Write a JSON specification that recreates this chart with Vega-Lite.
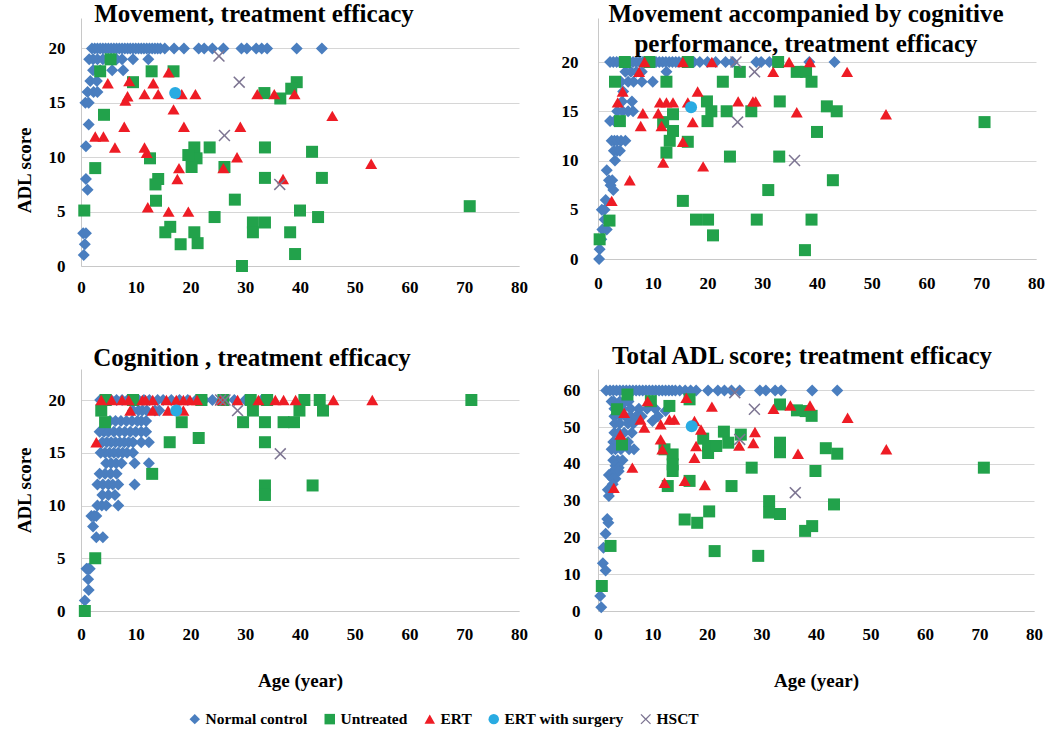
{
"$schema": "https://vega.github.io/schema/vega-lite/v6.json",
"padding": {"left": 15, "top": 2, "right": 0, "bottom": 0},
"config": {
  "font": "Liberation Serif",
  "view": {"stroke": null},
  "axis": {"labelFont": "Liberation Serif", "labelFontWeight": "bold", "labelFontSize": 17, "labelColor": "#000", "titleFont": "Liberation Serif", "titleFontWeight": "bold", "titleFontSize": 19, "titleColor": "#000", "ticks": false, "domainColor": "#c8c8c8", "gridColor": "#d6d6d6", "labelFlush": false, "labelOverlap": false},
  "axisX": {"grid": false, "labelPadding": 13},
  "axisY": {"grid": true, "labelPadding": 16},
  "title": {"font": "Liberation Serif", "fontWeight": "bold", "fontSize": 25, "color": "#000", "anchor": "middle", "lineHeight": 30},
  "legend": {"labelFont": "Liberation Serif", "labelFontWeight": "bold", "labelFontSize": 15.5, "labelColor": "#000", "symbolSize": 110, "columnPadding": 14, "labelOffset": 3}
},
"datasets": {
"m": [
{"group":"Normal control","age":2,"score":20},{"group":"Normal control","age":2.5,"score":20},{"group":"Normal control","age":3,"score":20},{"group":"Normal control","age":3.5,"score":20},{"group":"Normal control","age":4,"score":20},{"group":"Normal control","age":4.5,"score":20},{"group":"Normal control","age":5,"score":20},{"group":"Normal control","age":5.5,"score":20},{"group":"Normal control","age":6,"score":20},{"group":"Normal control","age":6.5,"score":20},{"group":"Normal control","age":7,"score":20},{"group":"Normal control","age":7.5,"score":20},{"group":"Normal control","age":8,"score":20},{"group":"Normal control","age":8.5,"score":20},{"group":"Normal control","age":9,"score":20},{"group":"Normal control","age":9.5,"score":20},{"group":"Normal control","age":10,"score":20},{"group":"Normal control","age":10.5,"score":20},{"group":"Normal control","age":11,"score":20},{"group":"Normal control","age":11.5,"score":20},{"group":"Normal control","age":12,"score":20},{"group":"Normal control","age":12.5,"score":20},{"group":"Normal control","age":13,"score":20},{"group":"Normal control","age":13.5,"score":20},{"group":"Normal control","age":14,"score":20},{"group":"Normal control","age":14.5,"score":20},{"group":"Normal control","age":15.3,"score":20},{"group":"Normal control","age":17,"score":20},{"group":"Normal control","age":18.8,"score":20},{"group":"Normal control","age":21.5,"score":20},{"group":"Normal control","age":22.5,"score":20},{"group":"Normal control","age":24,"score":20},{"group":"Normal control","age":26,"score":20},{"group":"Normal control","age":29.3,"score":20},{"group":"Normal control","age":30.3,"score":20},{"group":"Normal control","age":32,"score":20},{"group":"Normal control","age":33,"score":20},{"group":"Normal control","age":34,"score":20},{"group":"Normal control","age":39.4,"score":20},{"group":"Normal control","age":44,"score":20},
{"group":"Normal control","age":1.5,"score":19},{"group":"Normal control","age":2.2,"score":19},{"group":"Normal control","age":3,"score":19},{"group":"Normal control","age":4,"score":19},{"group":"Normal control","age":5.5,"score":19},{"group":"Normal control","age":6.5,"score":19},{"group":"Normal control","age":7.5,"score":19},{"group":"Normal control","age":9.5,"score":19},{"group":"Normal control","age":12.3,"score":19},
{"group":"Normal control","age":2.2,"score":18},{"group":"Normal control","age":3.5,"score":18},{"group":"Normal control","age":5.7,"score":18},{"group":"Normal control","age":7.7,"score":18},
{"group":"Normal control","age":1.7,"score":17},{"group":"Normal control","age":2.9,"score":17},{"group":"Normal control","age":1.2,"score":16},{"group":"Normal control","age":2.3,"score":16},{"group":"Normal control","age":3,"score":16},{"group":"Normal control","age":0.8,"score":15},{"group":"Normal control","age":1.4,"score":15},
{"group":"Normal control","age":1.4,"score":13},{"group":"Normal control","age":0.9,"score":11},{"group":"Normal control","age":0.9,"score":8},{"group":"Normal control","age":1.2,"score":7},{"group":"Normal control","age":0.4,"score":3},{"group":"Normal control","age":0.9,"score":3},{"group":"Normal control","age":0.7,"score":2},{"group":"Normal control","age":0.5,"score":1},
{"group":"Untreated","age":5.4,"score":19},{"group":"Untreated","age":3.5,"score":17.9},{"group":"Untreated","age":12.9,"score":17.9},{"group":"Untreated","age":16.9,"score":17.9},{"group":"Untreated","age":9.5,"score":16.9},{"group":"Untreated","age":39.4,"score":16.9},{"group":"Untreated","age":33.5,"score":15.9},{"group":"Untreated","age":36.4,"score":15.4},{"group":"Untreated","age":38.4,"score":16.3},{"group":"Untreated","age":4.2,"score":13.9},{"group":"Untreated","age":20.7,"score":10.9},{"group":"Untreated","age":23.5,"score":10.9},{"group":"Untreated","age":21.1,"score":9.9},{"group":"Untreated","age":20.2,"score":9.1},{"group":"Untreated","age":19.6,"score":10.2},{"group":"Untreated","age":33.6,"score":10.9},{"group":"Untreated","age":42.2,"score":10.5},{"group":"Untreated","age":26.2,"score":9.1},{"group":"Untreated","age":12.6,"score":9.9},{"group":"Untreated","age":2.6,"score":9},{"group":"Untreated","age":33.6,"score":8.1},{"group":"Untreated","age":44,"score":8.1},{"group":"Untreated","age":14.1,"score":8},{"group":"Untreated","age":13.6,"score":7.5},{"group":"Untreated","age":13.7,"score":6},{"group":"Untreated","age":28.1,"score":6.1},{"group":"Untreated","age":0.6,"score":5.1},{"group":"Untreated","age":71,"score":5.5},{"group":"Untreated","age":24.4,"score":4.5},{"group":"Untreated","age":40,"score":5.1},{"group":"Untreated","age":43.3,"score":4.5},{"group":"Untreated","age":16.3,"score":3.6},{"group":"Untreated","age":15.4,"score":3.1},{"group":"Untreated","age":20.7,"score":3.1},{"group":"Untreated","age":21.3,"score":2.1},{"group":"Untreated","age":31.4,"score":4},{"group":"Untreated","age":33.6,"score":4},{"group":"Untreated","age":31.4,"score":3.1},{"group":"Untreated","age":38.2,"score":3.1},{"group":"Untreated","age":18.2,"score":2},{"group":"Untreated","age":39.1,"score":1.1},{"group":"Untreated","age":29.4,"score":0},
{"group":"ERT","age":4.9,"score":16.8},{"group":"ERT","age":8.8,"score":17},{"group":"ERT","age":13.2,"score":16.8},{"group":"ERT","age":16,"score":17.8},{"group":"ERT","age":8.5,"score":15.6},{"group":"ERT","age":8.1,"score":15.2},{"group":"ERT","age":11.6,"score":15.8},{"group":"ERT","age":14.1,"score":15.8},{"group":"ERT","age":18.4,"score":15.8},{"group":"ERT","age":20.9,"score":15.8},{"group":"ERT","age":32.2,"score":15.8},{"group":"ERT","age":35.3,"score":15.8},{"group":"ERT","age":39,"score":15.8},{"group":"ERT","age":16.9,"score":14.4},{"group":"ERT","age":45.9,"score":13.8},{"group":"ERT","age":7.9,"score":12.8},{"group":"ERT","age":18.8,"score":12.8},{"group":"ERT","age":29.1,"score":12.8},{"group":"ERT","age":2.6,"score":11.9},{"group":"ERT","age":4.1,"score":11.9},{"group":"ERT","age":6.2,"score":10.9},{"group":"ERT","age":11.6,"score":10.9},{"group":"ERT","age":12,"score":10.4},{"group":"ERT","age":28.5,"score":10},{"group":"ERT","age":53,"score":9.4},{"group":"ERT","age":17.9,"score":9},{"group":"ERT","age":17.6,"score":8},{"group":"ERT","age":26,"score":9},{"group":"ERT","age":36.9,"score":8},{"group":"ERT","age":12.2,"score":5.4},{"group":"ERT","age":16,"score":5},{"group":"ERT","age":19.6,"score":5},
{"group":"ERT with surgery","age":17.2,"score":15.9},
{"group":"HSCT","age":25.2,"score":19.3},{"group":"HSCT","age":28.9,"score":16.9},{"group":"HSCT","age":26.2,"score":12},{"group":"HSCT","age":36.3,"score":7.5}
],
"mc": [
{"group":"Normal control","age":2.2,"score":20},{"group":"Normal control","age":2.8,"score":20},{"group":"Normal control","age":3.4,"score":20},{"group":"Normal control","age":4,"score":20},{"group":"Normal control","age":4.6,"score":20},{"group":"Normal control","age":5.2,"score":20},{"group":"Normal control","age":5.8,"score":20},{"group":"Normal control","age":6.4,"score":20},{"group":"Normal control","age":7,"score":20},{"group":"Normal control","age":7.6,"score":20},{"group":"Normal control","age":8.2,"score":20},{"group":"Normal control","age":8.8,"score":20},{"group":"Normal control","age":9.4,"score":20},{"group":"Normal control","age":10,"score":20},{"group":"Normal control","age":10.6,"score":20},{"group":"Normal control","age":11.2,"score":20},{"group":"Normal control","age":11.8,"score":20},{"group":"Normal control","age":12.4,"score":20},{"group":"Normal control","age":13,"score":20},{"group":"Normal control","age":13.6,"score":20},{"group":"Normal control","age":14.2,"score":20},{"group":"Normal control","age":14.8,"score":20},{"group":"Normal control","age":15.5,"score":20},{"group":"Normal control","age":16.5,"score":20},{"group":"Normal control","age":17.5,"score":20},{"group":"Normal control","age":18.6,"score":20},{"group":"Normal control","age":20,"score":20},{"group":"Normal control","age":21.5,"score":20},{"group":"Normal control","age":23.3,"score":20},{"group":"Normal control","age":24.6,"score":20},{"group":"Normal control","age":28.9,"score":20},{"group":"Normal control","age":29.8,"score":20},{"group":"Normal control","age":31.3,"score":20},{"group":"Normal control","age":33,"score":20},{"group":"Normal control","age":38.6,"score":20},{"group":"Normal control","age":43.2,"score":20},
{"group":"Normal control","age":5,"score":19},{"group":"Normal control","age":6,"score":19},{"group":"Normal control","age":7,"score":19},{"group":"Normal control","age":8,"score":19},{"group":"Normal control","age":12.5,"score":19},
{"group":"Normal control","age":4.2,"score":18},{"group":"Normal control","age":5.5,"score":18},{"group":"Normal control","age":6.5,"score":18},{"group":"Normal control","age":8,"score":18},{"group":"Normal control","age":10,"score":18},
{"group":"Normal control","age":4.6,"score":17},{"group":"Normal control","age":4.4,"score":16},{"group":"Normal control","age":6.2,"score":16},{"group":"Normal control","age":3.5,"score":15},{"group":"Normal control","age":4.5,"score":15},{"group":"Normal control","age":5.5,"score":15},{"group":"Normal control","age":6.4,"score":15},{"group":"Normal control","age":2.2,"score":14},{"group":"Normal control","age":3,"score":14},
{"group":"Normal control","age":2.5,"score":12},{"group":"Normal control","age":3,"score":12},{"group":"Normal control","age":3.5,"score":12},{"group":"Normal control","age":4.2,"score":12},{"group":"Normal control","age":5,"score":12},{"group":"Normal control","age":2.9,"score":11},{"group":"Normal control","age":3.5,"score":11},{"group":"Normal control","age":4,"score":11},{"group":"Normal control","age":3.1,"score":10},{"group":"Normal control","age":1.6,"score":9},{"group":"Normal control","age":2,"score":8},{"group":"Normal control","age":2.6,"score":8},{"group":"Normal control","age":2.3,"score":7.5},{"group":"Normal control","age":2.8,"score":7},{"group":"Normal control","age":1.4,"score":6},{"group":"Normal control","age":0.7,"score":5},{"group":"Normal control","age":1.2,"score":5},{"group":"Normal control","age":1.2,"score":4},{"group":"Normal control","age":0.8,"score":3},{"group":"Normal control","age":1.6,"score":3},{"group":"Normal control","age":0.6,"score":2},{"group":"Normal control","age":0.3,"score":1},{"group":"Normal control","age":0.2,"score":0},
{"group":"Untreated","age":4.9,"score":20},{"group":"Untreated","age":9.4,"score":20},{"group":"Untreated","age":16.4,"score":20},{"group":"Untreated","age":32.9,"score":20},{"group":"Untreated","age":25.9,"score":19},{"group":"Untreated","age":36.3,"score":19},{"group":"Untreated","age":38,"score":19},{"group":"Untreated","age":39,"score":18},{"group":"Untreated","age":3.1,"score":18},{"group":"Untreated","age":12.5,"score":18},{"group":"Untreated","age":22.8,"score":18},{"group":"Untreated","age":33.2,"score":16},{"group":"Untreated","age":4,"score":14},{"group":"Untreated","age":11.9,"score":13.9},{"group":"Untreated","age":13.7,"score":14.7},{"group":"Untreated","age":13.7,"score":13},{"group":"Untreated","age":13.1,"score":12},{"group":"Untreated","age":12.5,"score":10.8},{"group":"Untreated","age":16.4,"score":11.9},{"group":"Untreated","age":19.9,"score":16},{"group":"Untreated","age":20.7,"score":15},{"group":"Untreated","age":20,"score":14},{"group":"Untreated","age":23.5,"score":15},{"group":"Untreated","age":24.1,"score":10.4},{"group":"Untreated","age":28,"score":15},{"group":"Untreated","age":41.8,"score":15.5},{"group":"Untreated","age":43.6,"score":15},{"group":"Untreated","age":40,"score":12.9},{"group":"Untreated","age":33.1,"score":10.4},{"group":"Untreated","age":31.1,"score":7},{"group":"Untreated","age":42.9,"score":8},{"group":"Untreated","age":15.5,"score":5.9},{"group":"Untreated","age":17.9,"score":4},{"group":"Untreated","age":20.1,"score":4},{"group":"Untreated","age":21,"score":2.4},{"group":"Untreated","age":29,"score":4},{"group":"Untreated","age":39,"score":4},{"group":"Untreated","age":37.8,"score":0.9},{"group":"Untreated","age":2.1,"score":3.9},{"group":"Untreated","age":0.3,"score":2},{"group":"Untreated","age":70.6,"score":13.9},
{"group":"ERT","age":8.5,"score":20},{"group":"ERT","age":15.5,"score":20},{"group":"ERT","age":20.8,"score":20},{"group":"ERT","age":34.9,"score":20},{"group":"ERT","age":38.7,"score":20},{"group":"ERT","age":32,"score":19},{"group":"ERT","age":45.5,"score":19},{"group":"ERT","age":7.5,"score":19},{"group":"ERT","age":4.5,"score":17},{"group":"ERT","age":18.2,"score":17},{"group":"ERT","age":3.6,"score":15.9},{"group":"ERT","age":11.3,"score":15.9},{"group":"ERT","age":12.5,"score":15.9},{"group":"ERT","age":13.7,"score":15.9},{"group":"ERT","age":16.4,"score":15.9},{"group":"ERT","age":25.6,"score":16},{"group":"ERT","age":28.3,"score":16},{"group":"ERT","age":28.8,"score":16},{"group":"ERT","age":8.2,"score":14.8},{"group":"ERT","age":11,"score":14.8},{"group":"ERT","age":36.3,"score":14.9},{"group":"ERT","age":52.6,"score":14.7},{"group":"ERT","age":7.8,"score":13.5},{"group":"ERT","age":11.6,"score":13.5},{"group":"ERT","age":17.3,"score":13.9},{"group":"ERT","age":15.5,"score":11.9},{"group":"ERT","age":11.9,"score":9.8},{"group":"ERT","age":19.2,"score":9.4},{"group":"ERT","age":5.8,"score":8},{"group":"ERT","age":2.5,"score":5.9},
{"group":"ERT with surgery","age":17,"score":15.4},
{"group":"HSCT","age":25.2,"score":20},{"group":"HSCT","age":28.6,"score":19},{"group":"HSCT","age":25.5,"score":13.9},{"group":"HSCT","age":35.9,"score":10}
],
"c": [
{"group":"Normal control","age":3.5,"score":20},{"group":"Normal control","age":4.5,"score":20},{"group":"Normal control","age":5.5,"score":20},{"group":"Normal control","age":6.5,"score":20},{"group":"Normal control","age":7.5,"score":20},{"group":"Normal control","age":8.5,"score":20},{"group":"Normal control","age":9.5,"score":20},{"group":"Normal control","age":10.5,"score":20},{"group":"Normal control","age":11.5,"score":20},{"group":"Normal control","age":12.5,"score":20},{"group":"Normal control","age":14,"score":20},{"group":"Normal control","age":15,"score":20},{"group":"Normal control","age":16.5,"score":20},{"group":"Normal control","age":18,"score":20},{"group":"Normal control","age":19.5,"score":20},{"group":"Normal control","age":21,"score":20},{"group":"Normal control","age":22.5,"score":20},{"group":"Normal control","age":24,"score":20},{"group":"Normal control","age":26,"score":20},{"group":"Normal control","age":28,"score":20},{"group":"Normal control","age":30,"score":20},{"group":"Normal control","age":33,"score":20},
{"group":"Normal control","age":9.5,"score":19},{"group":"Normal control","age":10.5,"score":19},{"group":"Normal control","age":11.2,"score":19},{"group":"Normal control","age":12,"score":19},{"group":"Normal control","age":13.5,"score":19},{"group":"Normal control","age":14.3,"score":19},
{"group":"Normal control","age":5.3,"score":18},{"group":"Normal control","age":6.3,"score":18},{"group":"Normal control","age":7.3,"score":18},{"group":"Normal control","age":8.3,"score":18},{"group":"Normal control","age":9.3,"score":18},{"group":"Normal control","age":10.3,"score":18},{"group":"Normal control","age":11,"score":18},{"group":"Normal control","age":11.9,"score":18},
{"group":"Normal control","age":3.4,"score":17},{"group":"Normal control","age":4.2,"score":17},{"group":"Normal control","age":5,"score":17},{"group":"Normal control","age":6,"score":17},{"group":"Normal control","age":7,"score":17},{"group":"Normal control","age":8,"score":17},{"group":"Normal control","age":9,"score":17},{"group":"Normal control","age":10,"score":17},{"group":"Normal control","age":11,"score":17},{"group":"Normal control","age":11.9,"score":17},
{"group":"Normal control","age":3.9,"score":16},{"group":"Normal control","age":4.7,"score":16},{"group":"Normal control","age":5.5,"score":16},{"group":"Normal control","age":6.3,"score":16},{"group":"Normal control","age":7.1,"score":16},{"group":"Normal control","age":7.9,"score":16},{"group":"Normal control","age":8.7,"score":16},{"group":"Normal control","age":9.5,"score":16},{"group":"Normal control","age":11,"score":16},{"group":"Normal control","age":12.4,"score":16},
{"group":"Normal control","age":3.6,"score":15},{"group":"Normal control","age":4.4,"score":15},{"group":"Normal control","age":5.2,"score":15},{"group":"Normal control","age":6,"score":15},{"group":"Normal control","age":6.8,"score":15},{"group":"Normal control","age":7.6,"score":15},{"group":"Normal control","age":8.4,"score":15},{"group":"Normal control","age":9.5,"score":15},
{"group":"Normal control","age":4.6,"score":14},{"group":"Normal control","age":5.5,"score":14},{"group":"Normal control","age":6.4,"score":14},{"group":"Normal control","age":7.4,"score":14},{"group":"Normal control","age":9.8,"score":14},{"group":"Normal control","age":12.4,"score":14},
{"group":"Normal control","age":3.4,"score":13},{"group":"Normal control","age":4.4,"score":13},{"group":"Normal control","age":5.4,"score":13},{"group":"Normal control","age":6.5,"score":13},
{"group":"Normal control","age":3,"score":12},{"group":"Normal control","age":4,"score":12},{"group":"Normal control","age":5,"score":12},{"group":"Normal control","age":5.8,"score":12},{"group":"Normal control","age":6.8,"score":12},{"group":"Normal control","age":9.8,"score":12},
{"group":"Normal control","age":3.9,"score":11},{"group":"Normal control","age":5,"score":11},{"group":"Normal control","age":6.2,"score":11},{"group":"Normal control","age":3,"score":10},{"group":"Normal control","age":3.8,"score":10},{"group":"Normal control","age":4.6,"score":10},{"group":"Normal control","age":6.8,"score":10},
{"group":"Normal control","age":1.9,"score":9},{"group":"Normal control","age":2.4,"score":9},{"group":"Normal control","age":2.8,"score":9},{"group":"Normal control","age":2.2,"score":8},{"group":"Normal control","age":2.8,"score":7},{"group":"Normal control","age":4,"score":7},
{"group":"Normal control","age":1,"score":4},{"group":"Normal control","age":1.3,"score":4},{"group":"Normal control","age":1.6,"score":4},{"group":"Normal control","age":1.3,"score":3},{"group":"Normal control","age":1.4,"score":2},{"group":"Normal control","age":0.7,"score":1},
{"group":"Untreated","age":71.3,"score":20},{"group":"Untreated","age":40.8,"score":20},{"group":"Untreated","age":43.6,"score":20},{"group":"Untreated","age":31,"score":20},{"group":"Untreated","age":34,"score":20},{"group":"Untreated","age":22,"score":20},{"group":"Untreated","age":26,"score":20},{"group":"Untreated","age":9.5,"score":20},{"group":"Untreated","age":4.5,"score":20},{"group":"Untreated","age":31.4,"score":19},{"group":"Untreated","age":44.2,"score":19},{"group":"Untreated","age":39.9,"score":19},{"group":"Untreated","age":3.7,"score":19},{"group":"Untreated","age":4.4,"score":17.9},{"group":"Untreated","age":18.4,"score":17.9},{"group":"Untreated","age":29.6,"score":17.9},{"group":"Untreated","age":33.6,"score":17.9},{"group":"Untreated","age":37,"score":17.9},{"group":"Untreated","age":38.9,"score":17.9},{"group":"Untreated","age":21.5,"score":16.4},{"group":"Untreated","age":16.2,"score":16},{"group":"Untreated","age":33.6,"score":16},{"group":"Untreated","age":13,"score":13},{"group":"Untreated","age":33.6,"score":11.9},{"group":"Untreated","age":33.6,"score":11},{"group":"Untreated","age":42.3,"score":11.9},{"group":"Untreated","age":2.6,"score":5},{"group":"Untreated","age":0.7,"score":0},
{"group":"ERT","age":3.7,"score":20},{"group":"ERT","age":5.6,"score":20},{"group":"ERT","age":7.5,"score":20},{"group":"ERT","age":8.7,"score":20},{"group":"ERT","age":11.2,"score":20},{"group":"ERT","age":11.8,"score":20},{"group":"ERT","age":13.1,"score":20},{"group":"ERT","age":15.6,"score":20},{"group":"ERT","age":17.4,"score":20},{"group":"ERT","age":18.7,"score":20},{"group":"ERT","age":19.9,"score":20},{"group":"ERT","age":21.2,"score":20},{"group":"ERT","age":25.5,"score":20},{"group":"ERT","age":28.6,"score":20},{"group":"ERT","age":32.4,"score":20},{"group":"ERT","age":35.5,"score":20},{"group":"ERT","age":37,"score":20},{"group":"ERT","age":39.2,"score":20},{"group":"ERT","age":46.1,"score":20},{"group":"ERT","age":53.2,"score":20},{"group":"ERT","age":9,"score":19},{"group":"ERT","age":13.1,"score":19},{"group":"ERT","age":15.9,"score":19},{"group":"ERT","age":18.7,"score":19},{"group":"ERT","age":2.8,"score":16},
{"group":"ERT with surgery","age":17.4,"score":19},
{"group":"HSCT","age":25.5,"score":20},{"group":"HSCT","age":26.3,"score":20},{"group":"HSCT","age":28.6,"score":19},{"group":"HSCT","age":36.4,"score":14.9}
],
"t": [
{"group":"Normal control","age":1.5,"score":60},{"group":"Normal control","age":2.2,"score":60},{"group":"Normal control","age":2.8,"score":60},{"group":"Normal control","age":3.4,"score":60},{"group":"Normal control","age":4,"score":60},{"group":"Normal control","age":4.6,"score":60},{"group":"Normal control","age":5.2,"score":60},{"group":"Normal control","age":5.8,"score":60},{"group":"Normal control","age":6.4,"score":60},{"group":"Normal control","age":7,"score":60},{"group":"Normal control","age":7.6,"score":60},{"group":"Normal control","age":8.2,"score":60},{"group":"Normal control","age":8.8,"score":60},{"group":"Normal control","age":9.4,"score":60},{"group":"Normal control","age":10,"score":60},{"group":"Normal control","age":10.6,"score":60},{"group":"Normal control","age":11.2,"score":60},{"group":"Normal control","age":11.8,"score":60},{"group":"Normal control","age":12.4,"score":60},{"group":"Normal control","age":13,"score":60},{"group":"Normal control","age":13.6,"score":60},{"group":"Normal control","age":14.2,"score":60},{"group":"Normal control","age":15,"score":60},{"group":"Normal control","age":16,"score":60},{"group":"Normal control","age":17,"score":60},{"group":"Normal control","age":18,"score":60},{"group":"Normal control","age":20.2,"score":60},{"group":"Normal control","age":22,"score":60},{"group":"Normal control","age":23.2,"score":60},{"group":"Normal control","age":24.5,"score":60},{"group":"Normal control","age":26,"score":60},{"group":"Normal control","age":29.7,"score":60},{"group":"Normal control","age":30.8,"score":60},{"group":"Normal control","age":32.5,"score":60},{"group":"Normal control","age":33.6,"score":60},{"group":"Normal control","age":39.3,"score":60},{"group":"Normal control","age":43.9,"score":60},
{"group":"Normal control","age":2.5,"score":57},{"group":"Normal control","age":2.9,"score":57},{"group":"Normal control","age":4,"score":57},{"group":"Normal control","age":5,"score":57},{"group":"Normal control","age":5.6,"score":57},
{"group":"Normal control","age":3,"score":55},{"group":"Normal control","age":3.5,"score":55},{"group":"Normal control","age":4.5,"score":55},{"group":"Normal control","age":6,"score":55},{"group":"Normal control","age":7.5,"score":55},{"group":"Normal control","age":9,"score":55},{"group":"Normal control","age":10.5,"score":55},{"group":"Normal control","age":12.4,"score":54.4},
{"group":"Normal control","age":3,"score":53},{"group":"Normal control","age":4,"score":53},{"group":"Normal control","age":5,"score":53},{"group":"Normal control","age":6,"score":53},{"group":"Normal control","age":7,"score":53},{"group":"Normal control","age":8,"score":53},{"group":"Normal control","age":11,"score":53},
{"group":"Normal control","age":3.1,"score":51},{"group":"Normal control","age":4,"score":51},{"group":"Normal control","age":5.5,"score":51},{"group":"Normal control","age":6.5,"score":51},{"group":"Normal control","age":10,"score":51.7},
{"group":"Normal control","age":3,"score":48.5},{"group":"Normal control","age":3.8,"score":48.5},{"group":"Normal control","age":4.8,"score":48.5},{"group":"Normal control","age":6.2,"score":48.5},
{"group":"Normal control","age":2.8,"score":46},{"group":"Normal control","age":3.5,"score":46},{"group":"Normal control","age":4.5,"score":46},{"group":"Normal control","age":5.5,"score":46},
{"group":"Normal control","age":2.5,"score":44},{"group":"Normal control","age":3.2,"score":44},{"group":"Normal control","age":4.2,"score":44},{"group":"Normal control","age":5.7,"score":44},{"group":"Normal control","age":6.6,"score":44},
{"group":"Normal control","age":2.8,"score":41},{"group":"Normal control","age":3.6,"score":41},{"group":"Normal control","age":4.5,"score":41},{"group":"Normal control","age":3.2,"score":39.5},{"group":"Normal control","age":3.8,"score":39},{"group":"Normal control","age":2.8,"score":38},{"group":"Normal control","age":3.8,"score":38},{"group":"Normal control","age":2,"score":37},{"group":"Normal control","age":2.7,"score":37},{"group":"Normal control","age":2.7,"score":36},{"group":"Normal control","age":3.2,"score":36},{"group":"Normal control","age":2.7,"score":34.5},{"group":"Normal control","age":1.8,"score":33},{"group":"Normal control","age":2.4,"score":33},{"group":"Normal control","age":2,"score":31.3},
{"group":"Normal control","age":1.7,"score":25},{"group":"Normal control","age":1.9,"score":24},{"group":"Normal control","age":1.4,"score":21},{"group":"Normal control","age":1,"score":17.2},{"group":"Normal control","age":0.9,"score":13},{"group":"Normal control","age":1.4,"score":11},{"group":"Normal control","age":0.4,"score":4.1},{"group":"Normal control","age":0.6,"score":1},
{"group":"Untreated","age":5.4,"score":58.9},{"group":"Untreated","age":9.7,"score":57.1},{"group":"Untreated","age":13.1,"score":55.8},{"group":"Untreated","age":16.8,"score":57.6},{"group":"Untreated","age":3.5,"score":54.9},{"group":"Untreated","age":4.4,"score":45.3},{"group":"Untreated","age":33.4,"score":56.2},{"group":"Untreated","age":36.5,"score":54.6},{"group":"Untreated","age":38.1,"score":54.4},{"group":"Untreated","age":39.2,"score":53.1},{"group":"Untreated","age":12.2,"score":44},{"group":"Untreated","age":13.7,"score":42.6},{"group":"Untreated","age":13.7,"score":39.9},{"group":"Untreated","age":13.7,"score":38.1},{"group":"Untreated","age":12.8,"score":34},{"group":"Untreated","age":19.3,"score":46.9},{"group":"Untreated","age":20.2,"score":44.9},{"group":"Untreated","age":20.2,"score":43},{"group":"Untreated","age":21.7,"score":44.9},{"group":"Untreated","age":23.1,"score":48.8},{"group":"Untreated","age":23.9,"score":45.8},{"group":"Untreated","age":26.2,"score":48},{"group":"Untreated","age":33.4,"score":45.8},{"group":"Untreated","age":33.4,"score":43.2},{"group":"Untreated","age":28.2,"score":39},{"group":"Untreated","age":16.8,"score":35.4},{"group":"Untreated","age":24.5,"score":34},{"group":"Untreated","age":31.4,"score":29.9},{"group":"Untreated","age":31.4,"score":26.8},{"group":"Untreated","age":33.4,"score":26.4},{"group":"Untreated","age":39.9,"score":38.1},{"group":"Untreated","age":41.8,"score":44.3},{"group":"Untreated","age":43.9,"score":42.8},{"group":"Untreated","age":43.3,"score":29},{"group":"Untreated","age":70.8,"score":39},{"group":"Untreated","age":15.9,"score":24.9},{"group":"Untreated","age":18.2,"score":24},{"group":"Untreated","age":20.4,"score":27.1},{"group":"Untreated","age":21.4,"score":16.3},{"group":"Untreated","age":29.4,"score":15},{"group":"Untreated","age":38,"score":21.8},{"group":"Untreated","age":39.3,"score":23.1},{"group":"Untreated","age":2.3,"score":17.7},{"group":"Untreated","age":0.7,"score":6.8},
{"group":"ERT","age":16.2,"score":58},{"group":"ERT","age":9.1,"score":57.1},{"group":"ERT","age":4.8,"score":53.9},{"group":"ERT","age":4.1,"score":48},{"group":"ERT","age":7.8,"score":52.1},{"group":"ERT","age":8.5,"score":49.9},{"group":"ERT","age":11.5,"score":50.8},{"group":"ERT","age":13.1,"score":52.1},{"group":"ERT","age":14,"score":52.1},{"group":"ERT","age":11.5,"score":46.7},{"group":"ERT","age":11.8,"score":44},{"group":"ERT","age":12.2,"score":34.9},{"group":"ERT","age":17.7,"score":51.7},{"group":"ERT","age":18.9,"score":49.4},{"group":"ERT","age":18,"score":44.9},{"group":"ERT","age":17.7,"score":41.7},{"group":"ERT","age":15.9,"score":35.4},{"group":"ERT","age":19.6,"score":34.3},{"group":"ERT","age":20.9,"score":55.6},{"group":"ERT","age":6.3,"score":39},{"group":"ERT","age":2.9,"score":33.5},{"group":"ERT","age":25.9,"score":45},{"group":"ERT","age":28.8,"score":48.7},{"group":"ERT","age":28.5,"score":45.7},{"group":"ERT","age":32.2,"score":55},{"group":"ERT","age":35.3,"score":55.9},{"group":"ERT","age":38.9,"score":55.9},{"group":"ERT","age":36.7,"score":42.8},{"group":"ERT","age":45.8,"score":52.6},{"group":"ERT","age":52.9,"score":44},
{"group":"ERT with surgery","age":17.2,"score":50.3},
{"group":"HSCT","age":25.1,"score":59.4},{"group":"HSCT","age":28.7,"score":54.9},{"group":"HSCT","age":26,"score":46.7},{"group":"HSCT","age":36.2,"score":32.2}
]
},
"columns": 2,
"spacing": {"row": 49, "column": 33},
"concat": [
{
  "width": 438, "height": 248,
  "data": {"name": "m"},
  "title": {"text": "Movement, treatment efficacy", "offset": -9, "dx": -46},
  "mark": {"type": "point", "filled": true, "opacity": 1, "size": 144},
  "encoding": {
    "x": {"field": "age", "type": "quantitative", "scale": {"domain": [0, 80], "nice": false}, "axis": {"values": [0,10,20,30,40,50,60,70,80], "title": null, "labelPadding": 13}},
    "y": {"field": "score", "type": "quantitative", "scale": {"domain": [0, 22.8], "nice": false}, "axis": {"values": [0,5,10,15,20], "title": "ADL score", "titlePadding": 14, "titleY": 152}},
    "color": {"field": "group", "type": "nominal", "scale": {"domain": ["Normal control","Untreated","ERT","ERT with surgery","HSCT"], "range": ["#4a7ebf","#22a24b","#ee1c25","#29abe2","#7d7592"]}, "legend": {"title": null, "orient": "none", "direction": "horizontal", "legendX": 106, "legendY": 693}},
    "shape": {"field": "group", "type": "nominal", "scale": {"domain": ["Normal control","Untreated","ERT","ERT with surgery","HSCT"], "range": ["diamond","square","triangle-up","circle","M-1,-0.82L-0.82,-1L0,-0.18L0.82,-1L1,-0.82L0.18,0L1,0.82L0.82,1L0,0.18L-0.82,1L-1,0.82L-0.18,0Z"]}, "legend": {"title": null, "orient": "none", "direction": "horizontal", "legendX": 106, "legendY": 693}}
  }
},
{
  "width": 438, "height": 241,
  "data": {"name": "mc"},
  "title": {"text": ["Movement accompanied by cognitive", "performance, treatment efficacy"], "offset": -39, "dx": -11},
  "mark": {"type": "point", "filled": true, "opacity": 1, "size": 144},
  "encoding": {
    "x": {"field": "age", "type": "quantitative", "scale": {"domain": [0, 80], "nice": false}, "axis": {"values": [0,10,20,30,40,50,60,70,80], "title": null, "labelPadding": 16}},
    "y": {"field": "score", "type": "quantitative", "scale": {"domain": [0, 24.47], "nice": false}, "axis": {"values": [0,5,10,15,20], "title": null, "labelPadding": 20}},
    "color": {"field": "group", "type": "nominal", "scale": {"domain": ["Normal control","Untreated","ERT","ERT with surgery","HSCT"], "range": ["#4a7ebf","#22a24b","#ee1c25","#29abe2","#7d7592"]}, "legend": {"title": null, "orient": "none", "direction": "horizontal", "legendX": 106, "legendY": 693}},
    "shape": {"field": "group", "type": "nominal", "scale": {"domain": ["Normal control","Untreated","ERT","ERT with surgery","HSCT"], "range": ["diamond","square","triangle-up","circle","M-1,-0.82L-0.82,-1L0,-0.18L0.82,-1L1,-0.82L0.18,0L1,0.82L0.82,1L0,0.18L-0.82,1L-1,0.82L-0.18,0Z"]}, "legend": {"title": null, "orient": "none", "direction": "horizontal", "legendX": 106, "legendY": 693}}
  }
},
{
  "width": 438, "height": 242,
  "data": {"name": "c"},
  "title": {"text": "Cognition , treatment efficacy", "offset": -2, "dx": -48},
  "mark": {"type": "point", "filled": true, "opacity": 1, "size": 144},
  "encoding": {
    "x": {"field": "age", "type": "quantitative", "scale": {"domain": [0, 80], "nice": false}, "axis": {"values": [0,10,20,30,40,50,60,70,80], "title": "Age (year)", "labelPadding": 15, "titlePadding": 29}},
    "y": {"field": "score", "type": "quantitative", "scale": {"domain": [0, 22.94], "nice": false}, "axis": {"values": [0,5,10,15,20], "title": "ADL score", "titlePadding": 14, "titleY": 121}},
    "color": {"field": "group", "type": "nominal", "scale": {"domain": ["Normal control","Untreated","ERT","ERT with surgery","HSCT"], "range": ["#4a7ebf","#22a24b","#ee1c25","#29abe2","#7d7592"]}, "legend": {"title": null, "orient": "none", "direction": "horizontal", "legendX": 106, "legendY": 693}},
    "shape": {"field": "group", "type": "nominal", "scale": {"domain": ["Normal control","Untreated","ERT","ERT with surgery","HSCT"], "range": ["diamond","square","triangle-up","circle","M-1,-0.82L-0.82,-1L0,-0.18L0.82,-1L1,-0.82L0.18,0L1,0.82L0.82,1L0,0.18L-0.82,1L-1,0.82L-0.18,0Z"]}, "legend": {"title": null, "orient": "none", "direction": "horizontal", "legendX": 106, "legendY": 693}}
  }
},
{
  "width": 436, "height": 242,
  "data": {"name": "t"},
  "title": {"text": "Total ADL score; treatment efficacy", "offset": 0, "dx": -14},
  "mark": {"type": "point", "filled": true, "opacity": 1, "size": 144},
  "encoding": {
    "x": {"field": "age", "type": "quantitative", "scale": {"domain": [0, 80], "nice": false}, "axis": {"values": [0,10,20,30,40,50,60,70,80], "title": "Age (year)", "labelPadding": 15, "titlePadding": 29}},
    "y": {"field": "score", "type": "quantitative", "scale": {"domain": [0, 65.85], "nice": false}, "axis": {"values": [0,10,20,30,40,50,60], "title": null, "labelPadding": 18}},
    "color": {"field": "group", "type": "nominal", "scale": {"domain": ["Normal control","Untreated","ERT","ERT with surgery","HSCT"], "range": ["#4a7ebf","#22a24b","#ee1c25","#29abe2","#7d7592"]}, "legend": {"title": null, "orient": "none", "direction": "horizontal", "legendX": 106, "legendY": 693}},
    "shape": {"field": "group", "type": "nominal", "scale": {"domain": ["Normal control","Untreated","ERT","ERT with surgery","HSCT"], "range": ["diamond","square","triangle-up","circle","M-1,-0.82L-0.82,-1L0,-0.18L0.82,-1L1,-0.82L0.18,0L1,0.82L0.82,1L0,0.18L-0.82,1L-1,0.82L-0.18,0Z"]}, "legend": {"title": null, "orient": "none", "direction": "horizontal", "legendX": 106, "legendY": 693}}
  }
}
]
}
